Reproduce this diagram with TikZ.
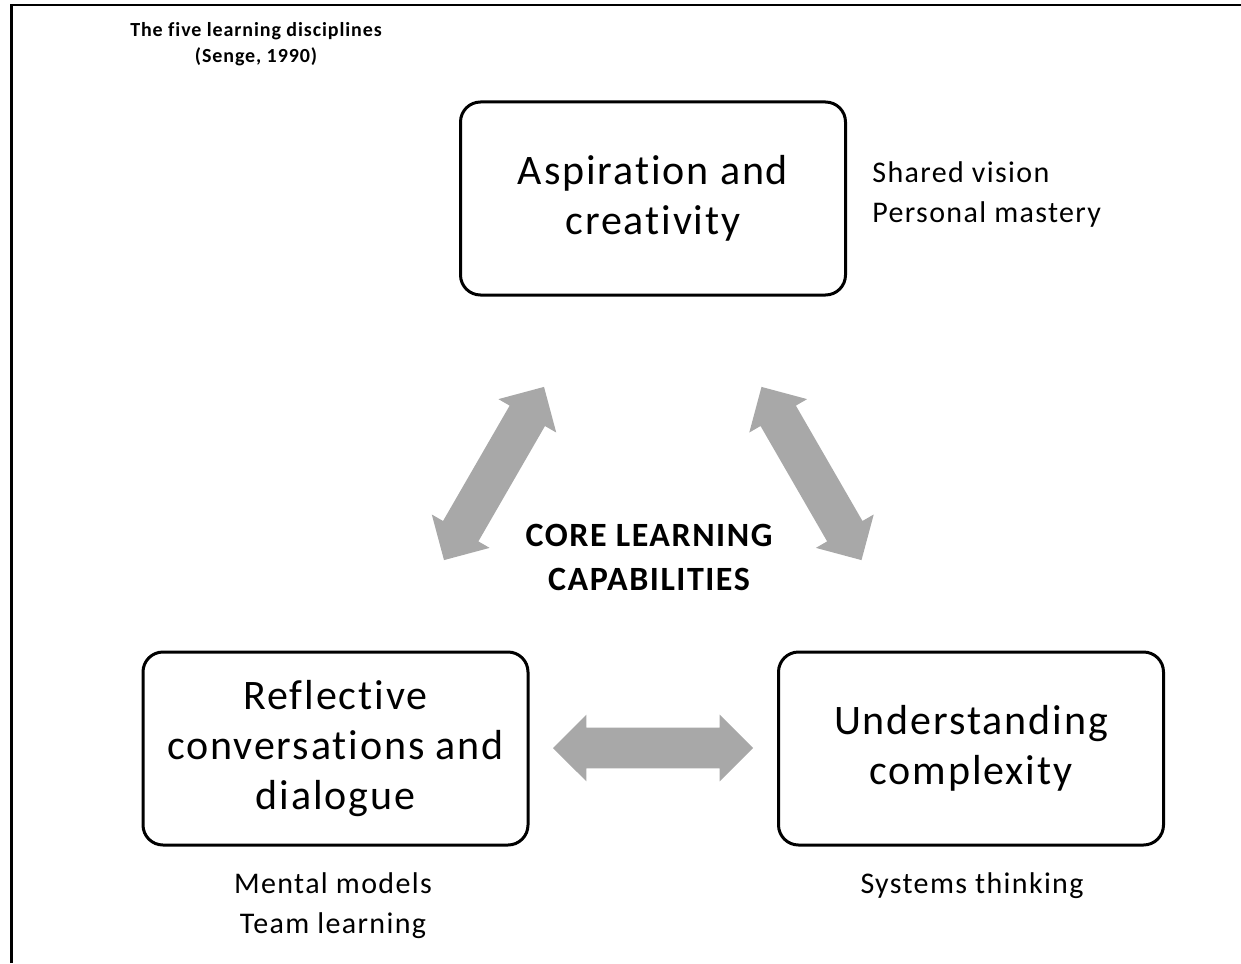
\documentclass[tikz,border=0pt]{standalone}
\usepackage{fontspec}
\setmainfont{Carlito}[LetterSpace=4.5, Ligatures=NoCommon]
\usetikzlibrary{shapes.arrows}
\definecolor{arrowgray}{HTML}{A8A8A8}

\begin{document}
\begin{tikzpicture}[x=0.5pt,y=-0.5pt]
	\tikzstyle{every node}+=[inner sep=0pt]
	\tikzstyle{box}=[draw=black, line width=1.5pt, rounded corners=10pt, minimum width=192.5pt, minimum height=96.5pt, align=center, font=\fontsize{21}{25}\selectfont]
	\tikzstyle{note}=[align=left, font=\fontsize{15}{20}\selectfont]
	\tikzstyle{twoway}=[double arrow, fill=arrowgray, minimum height=100pt, inner ysep=10pt, inner xsep=0pt, double arrow head extend=6.5pt]
	\useasboundingbox (0,0) rectangle (1241,963);
	\draw [black, line width=1.2pt] (11.5,963) -- (11.5,5) -- (1241,5);
	\node [align=center, font=\bfseries\fontsize{10}{13}\selectfont] (title) at (256,44) {The five learning disciplines\\(Senge, 1990)};
	\node [box] (aspire) at (653,198.5) {Aspiration and\\creativity};
	\node [box] (reflect) at (335.5,748.5) {Reflective\\conversations and\\dialogue};
	\node [box] (complex) at (971,748.5) {Understanding\\complexity};
	\node [note, anchor=west] (sv) at (872,194) {Shared vision\\Personal mastery};
	\node [note, align=center] (mm) at (333,906) {Mental models\\Team learning};
	\node [note] (st) at (972,886) {Systems thinking};
	\node [align=center, font=\bfseries\fontsize{17}{22}\selectfont] (core) at (649,557) {CORE LEARNING\\CAPABILITIES};
	\node [twoway, rotate=60] (a1) at (494,473.5) {};
	\node [twoway, rotate=-60] (a2) at (811.5,473.5) {};
	\node [twoway] (a3) at (653,748) {};
\end{tikzpicture}
\end{document}
